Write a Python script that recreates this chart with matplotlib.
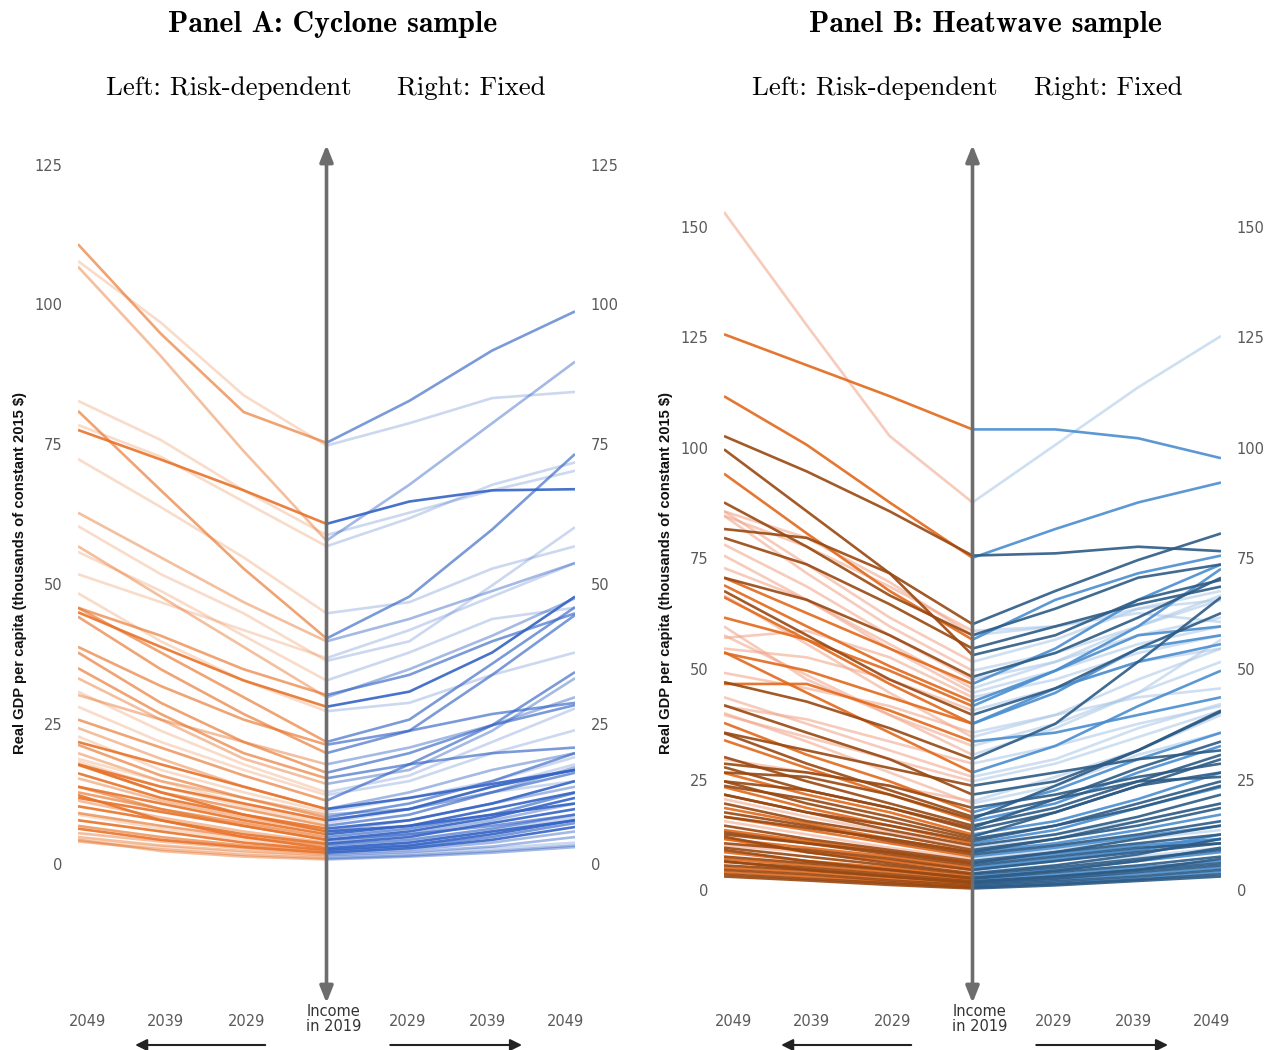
import matplotlib
matplotlib.use("Agg")
import matplotlib.pyplot as plt

# Income paths per country: 2019 level, then 2029/2039/2049 under each scenario
# (thousands of constant 2015 $). shade = colour intensity class.

# Panel A: cyclone sample
a_inc2019 = [75.5, 75, 58, 61, 40.5, 57, 59, 45, 40, 36.5, 30, 33, 27.5, 22, 20, 21.5,
             16.5, 15.5, 14.5, 12.5, 11.5, 10, 9.5, 8.5, 9, 8, 7, 6.5, 6, 5.5, 5, 4.5,
             4, 3.8, 3.5, 3, 2.7, 2.5, 2.2, 2, 1.7, 1.5, 1.2, 1, 13, 18, 8, 7.5, 30.4,
             28.3, 37, 3, 6, 10, 4.5]
a_risk = [(81, 95, 111), (84, 97, 108), (74, 91, 107), (67, 72.5, 77.8), (53, 67, 81.2),
          (65, 73, 78.7), (67, 76, 83), (55, 64, 72.6), (47, 55, 63), (45, 52, 60.6),
          (39, 48, 57), (41, 49, 56), (33, 40, 48.6), (30, 38, 46), (27, 35, 44.4),
          (26, 32, 39), (22, 29, 38), (20, 27, 35.2), (19, 26, 33.4), (17, 22, 28.3),
          (16, 21, 26), (14, 19, 24.5), (13, 17, 23), (12, 16, 21.5), (12, 15, 20),
          (11, 14, 18), (10, 13, 17.9), (9, 12, 16.4), (8.5, 11.5, 15.5), (8, 11, 14),
          (7.5, 10, 13), (7, 9.5, 12), (6, 8.5, 11.5), (5.5, 8, 10.5), (5, 7, 9.3),
          (4.5, 6.5, 9), (4, 6, 8), (3.5, 5, 7), (3.2, 4.5, 6.5), (3, 4.2, 5.7),
          (2.5, 3.5, 5), (2.2, 3.2, 4.5), (1.8, 2.8, 4.2), (1.5, 2.5, 4.5), (18, 24, 31),
          (22, 26, 30.4), (11, 15, 19), (10.5, 14, 18.5), (35, 41, 46), (33, 39, 45.2),
          (42, 47, 52), (5, 8, 12.5), (9, 13, 18), (14, 18, 22), (7, 10, 14)]
a_fixed = [(83, 92, 99), (79, 83.5, 84.6), (68, 79, 90), (65, 67, 67.2), (48, 60, 73.5),
           (62, 68, 72), (63, 67, 70.5), (47, 53, 57), (44, 49, 54), (40, 50, 60.4),
           (35, 41, 47.7), (38, 44, 46), (29, 34, 38), (26, 36, 46.1), (24, 34, 44.7),
           (24, 27, 29), (20, 25, 28.6), (18, 25, 34.5), (17, 24, 33.4), (15, 20, 24.1),
           (18, 20, 21), (13, 17, 20), (12, 15, 19.3), (11, 15, 20), (10, 13, 17.5),
           (10, 14, 17), (9, 13, 16.5), (8, 11, 15), (8, 11, 14), (7, 10, 13),
           (6.5, 9, 12.9), (6, 8.5, 12), (5.5, 8, 11), (5, 7.5, 10), (4.5, 6.5, 9),
           (4, 6, 8.5), (3.5, 5.5, 8), (3.3, 5, 7.5), (3, 4.5, 6.8), (2.7, 4, 6),
           (2.3, 3.3, 5), (2, 3, 4), (1.7, 2.5, 3.5), (1.5, 2.2, 3.2), (16, 22, 28),
           (21, 25, 30), (10, 14, 18), (10, 13, 15), (34, 40, 45), (31, 38, 48),
           (42, 48, 54), (4, 6, 8), (7, 9, 11), (12, 14.5, 17), (5.5, 7, 9)]
a_shade = [2, 0, 1, 3, 2, 0, 0, 0, 1, 0, 1, 0, 0, 2, 2, 2, 2, 2, 1, 0, 2, 1, 0, 2, 1, 3,
           2, 3, 1, 3, 2, 3, 1, 3, 2, 0, 3, 2, 3, 1, 1, 0, 1, 1, 0, 1, 0, 0, 2, 3, 0, 3,
           3, 3, 2]

# Panel B: heatwave sample
b_inc2019 = [88, 104.5, 75.5, 76, 60.5, 57, 58, 53.5, 55, 52, 50, 48, 45, 47, 43, 40,
             38, 35, 31, 27, 36, 30, 34, 26, 22, 20, 18, 17, 16, 15, 14, 13, 12, 11,
             10.5, 10, 9.5, 9, 8.5, 8, 7.5, 7, 6.5, 6, 5.5, 5, 4.5, 4, 3.5, 3, 2.7, 2.4,
             2, 1.8, 1.5, 1.2, 1, 0.8, 19, 20.5, 12.5, 16.5, 14.5, 44, 41, 29, 25, 33,
             24, 11.5, 9, 6.5, 5, 58, 59, 46, 48.6, 42, 38, 4.2, 3.2, 2.2]
b_risk = [(103, 128, 153.6), (112, 119, 126), (88, 101, 112), (86, 95, 103),
          (72, 86, 100), (68, 81, 94.5), (67, 78, 88), (72, 80, 82), (65, 74, 80),
          (62, 74, 86), (60, 72, 85), (58, 69, 78.5), (55, 66, 76), (55, 63, 71),
          (51, 60, 69.3), (48, 58, 68), (47, 57, 66.6), (45, 56, 67), (40, 49, 58),
          (36, 45, 54.2), (42, 46, 49.5), (37, 43, 47.4), (41, 47, 47), (32, 38, 44),
          (30, 36, 42.2), (27, 34, 40.4), (25, 31, 38.2), (23, 29, 35.9), (22, 28, 34.3),
          (20, 25, 30.5), (19, 23, 28.2), (18, 22, 26.9), (16, 20, 25), (15, 19, 23.7),
          (14, 18, 22), (13.5, 17, 21), (13, 16, 20), (12, 15.5, 19), (11.5, 15, 18),
          (11, 14, 17), (10, 13, 16), (9.5, 12, 15), (9, 11.5, 14), (8.5, 11, 13),
          (8, 10, 12), (7.5, 9.5, 11), (7, 9, 10.5), (6, 8, 10), (5.5, 7, 9),
          (5, 6.5, 8), (4.5, 6, 7.5), (4, 5.5, 6.8), (3.5, 5, 6), (3, 4.5, 5.5),
          (2.6, 4, 5), (2.2, 3.5, 4.5), (2, 3, 4), (1.6, 2.6, 3.5), (24, 27, 29),
          (24, 27, 30), (17, 21, 24), (22, 26, 27), (19, 23, 25), (53, 59, 57.4),
          (48, 53, 55), (34, 39, 42), (30, 35, 40), (40, 48, 60), (28, 32, 36),
          (15, 18, 22), (12, 14.5, 17), (9, 11, 13.5), (7, 9, 12), (70, 80, 86),
          (69, 78, 85), (56, 66, 73.2), (58, 66, 71), (50, 57, 62), (44, 50, 54),
          (6.5, 9, 12.5), (5, 7, 9.5), (3.5, 5, 7)]
b_fixed = [(101, 114, 125.6), (104.5, 102.5, 98), (82, 88, 92.5), (76.5, 78, 77),
           (68, 75, 81), (66, 72, 76), (64, 71, 74), (58, 66, 70.5), (60, 65, 69),
           (57, 64, 68), (54, 60, 66), (52, 58, 62), (50, 56, 60), (55, 66, 74),
           (50, 60, 73), (46, 55, 63), (45, 55, 58), (40, 48, 55), (37, 45, 52),
           (33, 42, 50), (40, 44, 46), (38, 52, 66.6), (36, 40, 44), (30, 37, 42.5),
           (25, 32, 40.7), (24, 31, 36), (23, 30, 36), (21, 28, 34), (20, 27, 33),
           (19, 25, 31), (18, 24, 30), (16, 21, 27), (15, 20, 25), (14, 19, 23.7),
           (13, 17, 22), (13, 16, 20), (12, 15, 19), (11, 14, 17.5), (10.5, 13, 16),
           (10, 12.5, 15), (9.5, 12, 14), (9, 11, 13), (8.5, 10.5, 12), (8, 10, 11),
           (7.5, 9.5, 12), (7, 9, 11), (6, 8, 10), (5.5, 7.5, 9.5), (5, 7, 9),
           (4.5, 6, 8), (4, 5.5, 7), (3.5, 5, 6.5), (3, 4.5, 6), (2.8, 4, 5.5),
           (2.4, 3.5, 5), (2, 3, 4.5), (1.8, 2.8, 4), (1.5, 2.5, 3.5), (22, 26, 29),
           (26, 32, 40), (18, 24, 27), (24, 32, 41), (21, 25, 26), (48, 54, 58),
           (46, 52, 55), (33, 38, 42), (29, 35, 41), (38, 45, 57), (27, 30, 32),
           (15, 19, 24), (12, 16, 20), (9, 12, 15), (7, 9.5, 13), (60, 64, 66),
           (60, 63, 61), (52, 60, 67), (54, 62, 71), (50, 58, 60), (46, 52, 56),
           (6, 8.5, 12), (4.8, 7, 10), (3.5, 5, 7.5)]
b_shade = [0, 1, 1, 2, 2, 1, 2, 2, 2, 0, 0, 0, 0, 1, 1, 2, 1, 0, 0, 1, 0, 2, 1, 0, 2,
           0, 1, 2, 1, 2, 2, 1, 2, 1, 2, 0, 2, 1, 2, 1, 0, 2, 1, 2, 1, 2, 0, 2, 1, 2,
           1, 2, 2, 1, 2, 1, 2, 2, 2, 0, 2, 2, 2, 0, 0, 0, 0, 0, 2, 2, 2, 2, 1, 0, 0,
           0, 2, 1, 1, 2, 2, 2]

yticks_a = [0, 25, 50, 75, 100, 125]
yticks_b = [0, 25, 50, 75, 100, 125, 150]
year_labels = ['2049', '2039', '2029', '2029', '2039', '2049']

# colours: panel A single hue with varying alpha, panel B three hue steps
a_left_colors = ['#E8732A'] * 4
a_right_colors = ['#3564C5'] * 4
a_alphas = [0.25, 0.45, 0.65, 0.9]
b_left_colors = ['#F2A184', '#E2691B', '#994811']
b_right_colors = ['#A9C6E8', '#4A8ED0', '#2D5B85']
b_alphas = [0.55, 0.9, 0.9]

TICK_FONT = ['Liberation Sans Narrow', 'DejaVu Sans']
GRAY = '#5a5a5a'

W, H = 1265, 1050
fig = plt.figure(figsize=(W / 100, H / 100), dpi=100)


def draw_panel(x0, x1, zero_px, px_per_unit, inc, risk, fixed, shade,
               lcols, rcols, alphas, yticks, title, title_x, sub_left_x, sub_right_x):
    # axes spans figure pixels y=140..1050; data y = (zero_px - pixel) / px_per_unit
    ax = fig.add_axes([x0 / W, 0, (x1 - x0) / W, 910 / H])
    ax.set_xlim(-3, 3)
    ax.set_ylim((zero_px - 1050) / px_per_unit, (zero_px - 140) / px_per_unit)
    ax.axis('off')

    order = sorted(range(len(inc)), key=lambda i: shade[i])
    for i in order:
        s = shade[i]
        ax.plot([0, -1, -2, -3], [inc[i]] + list(risk[i]), color=lcols[s],
                alpha=alphas[s], lw=1.9, solid_capstyle='butt', solid_joinstyle='round')
        ax.plot([0, 1, 2, 3], [inc[i]] + list(fixed[i]), color=rcols[s],
                alpha=alphas[s], lw=1.9, solid_capstyle='butt', solid_joinstyle='round')

    # central time axis
    y_bot = (zero_px - 1003) / px_per_unit
    y_top = (zero_px - 145) / px_per_unit
    ax.annotate('', xy=(0, y_top), xytext=(0, y_bot),
                arrowprops=dict(arrowstyle='<|-|>,head_length=0.55,head_width=0.22',
                                color='#6d6d6d', lw=2.6, shrinkA=0, shrinkB=0,
                                mutation_scale=18))

    for t in yticks:
        ax.text(-3.19, t, str(t), ha='right', va='center', fontsize=10.5,
                color=GRAY, family=TICK_FONT)
        ax.text(3.19, t, str(t), ha='left', va='center', fontsize=10.5,
                color=GRAY, family=TICK_FONT)

    y_year = (zero_px - 1021) / px_per_unit
    for xp, lab in zip([-2.89, -1.94, -0.97, 0.98, 1.94, 2.88], year_labels):
        ax.text(xp, y_year, lab, ha='center', va='center', fontsize=10.5,
                color=GRAY, family=TICK_FONT)
    ax.text(0.09, (zero_px - 1019) / px_per_unit, 'Income\nin 2019', ha='center',
            va='center', fontsize=10.5, color='#333333', family=TICK_FONT,
            linespacing=1.05)

    y_arr = (zero_px - 1045) / px_per_unit
    ax.annotate('', xy=(-2.31, y_arr), xytext=(-0.74, y_arr), annotation_clip=False,
                arrowprops=dict(arrowstyle='-|>,head_length=0.5,head_width=0.25',
                                color='#222222', lw=1.5, shrinkA=0, shrinkB=0,
                                mutation_scale=14))
    ax.annotate('', xy=(2.36, y_arr), xytext=(0.77, y_arr), annotation_clip=False,
                arrowprops=dict(arrowstyle='-|>,head_length=0.5,head_width=0.25',
                                color='#222222', lw=1.5, shrinkA=0, shrinkB=0,
                                mutation_scale=14))

    fig.text((x0 - 58) / W, 1 - 573 / H,
             r'Real GDP per capita (thousands of constant 2015 \$)', rotation=90,
             ha='center', va='center', fontsize=10.6, fontweight='bold',
             family=['Liberation Sans', 'DejaVu Sans'], color='#111111')

    fig.text(title_x / W, 1 - 25 / H, title, ha='center', va='center',
             fontsize=21.5, family='cmb10')
    fig.text(sub_left_x / W, 1 - 88 / H, 'Left: Risk-dependent', ha='center',
             va='center', fontsize=19.4, family='cmr10')
    fig.text(sub_right_x / W, 1 - 88 / H, 'Right: Fixed', ha='center',
             va='center', fontsize=19.4, family='cmr10')
    return ax


draw_panel(78, 575, 865, 699 / 125, a_inc2019, a_risk, a_fixed, a_shade,
           a_left_colors, a_right_colors, a_alphas, yticks_a,
           'Panel A: Cyclone sample', 333, 229, 471)
draw_panel(724, 1221, 892, 664 / 150, b_inc2019, b_risk, b_fixed, b_shade,
           b_left_colors, b_right_colors, b_alphas, yticks_b,
           'Panel B: Heatwave sample', 985, 875, 1108)

fig.savefig('out.png', dpi=100, facecolor='white')
